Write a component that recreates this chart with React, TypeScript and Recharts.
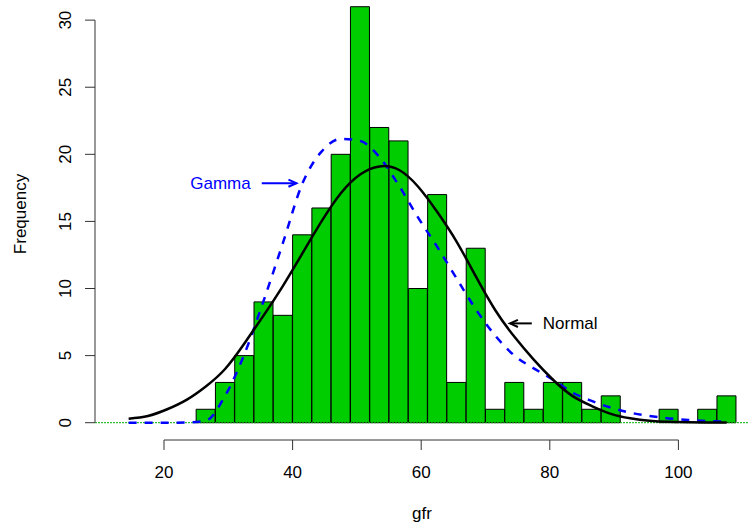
import { Bar, ComposedChart, Line, ReferenceLine, XAxis, YAxis } from "recharts";

// bin midpoints (bins are 3 wide, 25..109); first four rows only carry the fitted curves
const gfrMid = [
  14.5, 17.5, 20.5, 23.5, 26.5, 29.5, 32.5, 35.5, 38.5, 41.5, 44.5, 47.5, 50.5, 53.5, 56.5, 59.5,
  62.5, 65.5, 68.5, 71.5, 74.5, 77.5, 80.5, 83.5, 86.5, 89.5, 92.5, 95.5, 98.5, 101.5, 104.5, 107.5,
];
const frequency = [
  null, null, null, null, 1, 3, 5, 9, 8, 14, 16, 20, 31, 22, 21, 10,
  17, 3, 13, 1, 3, 1, 3, 3, 1, 2, 0, 0, 1, 0, 1, 2,
];
// fitted curves at the bin midpoints
const normalFit = [
  0.3, 0.5, 1.0, 1.7, 2.7, 4.0, 5.9, 8.0, 10.2, 12.6, 15.0, 17.1, 18.5, 19.1, 18.85, 17.6,
  15.7, 13.5, 10.9, 8.4, 6.4, 4.7, 3.2, 2.0, 1.25, 0.66, 0.33, 0.15, 0.07, 0.04, 0.02, 0.01,
];
const gammaFit = [
  0, 0, 0, 0.02, 0.15, 2.0, 5.1, 9.1, 13.4, 17.8, 20.2, 21.15, 21.0, 19.8, 17.7, 15.3,
  13.1, 10.75, 8.45, 6.5, 5.0, 4.05, 3.2, 2.25, 1.62, 1.12, 0.75, 0.5, 0.32, 0.2, 0.12, 0.07,
];
const xTicks = [20, 40, 60, 80, 100];
const yTicks = [0, 5, 10, 15, 20, 25, 30];

// annotation arrows: [tail x, tip x, y] in data units
const gammaArrow = [35.2, 40.6, 17.85];
const normalArrow = [77.2, 73.8, 7.4];

const X_DOMAIN: [number, number] = [9.27, 110.98];
const Y_DOMAIN: [number, number] = [-1.29, 31.5];
const FONT = "'Liberation Sans', Arial, Helvetica, sans-serif";

const rows = gfrMid.map((x, i) => ({
  x,
  frequency: frequency[i],
  normal: normalFit[i],
  gamma: gammaFit[i],
}));

const arrowShape = (label: string, color: string, tipOnRight: boolean) => (props: any) => {
  const { x1, y1, x2, y2 } = props;
  const lo = Math.min(x1, x2);
  const hi = Math.max(x1, x2);
  const y = (y1 + y2) / 2;
  const tip = tipOnRight ? hi : lo;
  const tail = tipOnRight ? lo : hi;
  const dir = tipOnRight ? -1 : 1;
  return (
    <g>
      <line x1={tail} y1={y} x2={tip} y2={y} stroke={color} strokeWidth={2} />
      <polyline
        points={`${tip + dir * 8},${y - 3.6} ${tip},${y} ${tip + dir * 8},${y + 3.6}`}
        fill="none"
        stroke={color}
        strokeWidth={2}
      />
      <text
        x={tipOnRight ? tail - 11 : tail + 11}
        y={y + 5.5}
        textAnchor={tipOnRight ? "end" : "start"}
        style={{ fill: color }}
        fontSize={17}
        fontFamily={FONT}
      >
        {label}
      </text>
    </g>
  );
};

const XTick = ({ x, y, payload }: any) => (
  <text x={x} y={y + 26} textAnchor="middle" fontSize={17} fontFamily={FONT} style={{ fill: "#000" }}>
    {payload.value}
  </text>
);

const YTick = ({ y, payload }: any) => (
  <text
    x={71}
    y={y}
    transform={`rotate(-90, 71, ${y})`}
    textAnchor="middle"
    fontSize={17}
    fontFamily={FONT}
    style={{ fill: "#000" }}
  >
    {payload.value}
  </text>
);

const YLabel = () => (
  <text
    x={0}
    y={0}
    transform="translate(26, 214) rotate(-90)"
    textAnchor="middle"
    fontSize={17}
    fontFamily={FONT}
    style={{ fill: "#000", stroke: "none" }}
  >
    Frequency
  </text>
);

export default function App() {
  return (
    <div style={{ position: "absolute", left: 0, top: 0, width: 749, height: 529, background: "#fff" }}>
      <ComposedChart
        width={749}
        height={529}
        data={rows}
        margin={{ top: 0, right: 0, bottom: 0, left: 0 }}
        barCategoryGap={0}
        barGap={0}
      >
        <XAxis
          dataKey="x"
          type="number"
          domain={X_DOMAIN}
          allowDataOverflow
          ticks={xTicks}
          interval={0}
          height={89}
          axisLine={false}
          tickSize={10}
          tickLine={{ stroke: "#333" }}
          tick={<XTick />}
          label={{
            content: ({ viewBox }: any) => (
              <text
                x={viewBox.x + viewBox.width / 2}
                y={viewBox.y + 79}
                textAnchor="middle"
                fontSize={17}
                fontFamily={FONT}
                style={{ fill: "#000" }}
              >
                gfr
              </text>
            ),
          }}
        />
        <YAxis
          type="number"
          domain={Y_DOMAIN}
          allowDataOverflow
          ticks={yTicks}
          interval={0}
          width={95}
          axisLine={false}
          tickSize={10}
          tickLine={{ stroke: "#333" }}
          tick={<YTick />}
          label={{ content: () => <YLabel /> }}
        />
        <Bar dataKey="frequency" fill="#00CD00" stroke="#000" strokeWidth={1} isAnimationActive={false} />
        <ReferenceLine y={0} stroke="#00B000" strokeDasharray="2 1" strokeWidth={1} ifOverflow="visible" />
        <ReferenceLine
          segment={[{ x: xTicks[0], y: Y_DOMAIN[0] }, { x: xTicks[xTicks.length - 1], y: Y_DOMAIN[0] }]}
          stroke="#333"
          ifOverflow="visible"
        />
        <ReferenceLine
          segment={[{ x: X_DOMAIN[0], y: yTicks[0] }, { x: X_DOMAIN[0], y: yTicks[yTicks.length - 1] }]}
          stroke="#333"
          ifOverflow="visible"
        />
        <Line
          dataKey="gamma"
          type="monotone"
          stroke="#0000FF"
          strokeWidth={2.5}
          strokeDasharray="8 8"
          dot={false}
          activeDot={false}
          isAnimationActive={false}
        />
        <Line
          dataKey="normal"
          type="natural"
          stroke="#000"
          strokeWidth={2.5}
          dot={false}
          activeDot={false}
          isAnimationActive={false}
        />
        <ReferenceLine
          segment={[{ x: gammaArrow[0], y: gammaArrow[2] }, { x: gammaArrow[1], y: gammaArrow[2] }]}
          shape={arrowShape("Gamma", "#0000FF", true)}
          ifOverflow="visible"
        />
        <ReferenceLine
          segment={[{ x: normalArrow[0], y: normalArrow[2] }, { x: normalArrow[1], y: normalArrow[2] }]}
          shape={arrowShape("Normal", "#000", false)}
          ifOverflow="visible"
        />
      </ComposedChart>
    </div>
  );
}
